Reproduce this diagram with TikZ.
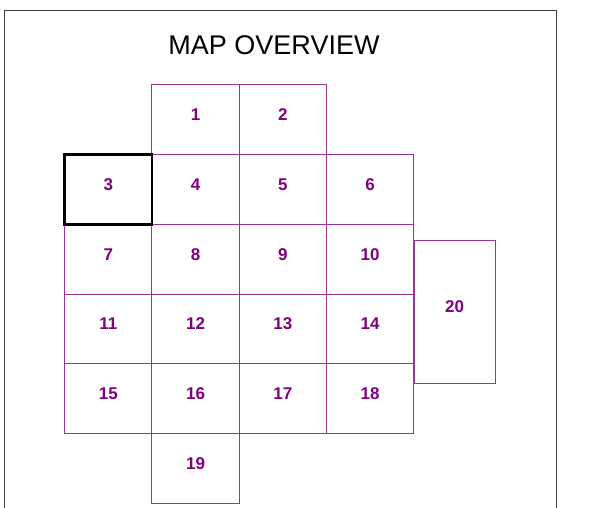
\documentclass[tikz,border=0pt]{standalone}
\usepackage{fontspec}
\setmainfont{Liberation Sans}
\usetikzlibrary{positioning}
\definecolor{mapline}{HTML}{993399}
\definecolor{maptext}{HTML}{800080}

\begin{document}
\begin{tikzpicture}[x=1pt, y=-1pt,
  cell/.style={draw=mapline, line width=1pt, minimum width=87.3pt, minimum height=69.7pt, inner sep=0pt, outer sep=0pt,
    font=\fontsize{17}{19}\selectfont\bfseries, text=maptext, text depth=10pt},
  sel/.style={draw=black, line width=2.8pt},
  frame/.style={draw=black!75, line width=1pt},
  title/.style={font=\fontsize{27}{30}\selectfont}]
\useasboundingbox (0,0) rectangle (605,508);
% frame and title
\draw[frame] (4,508) -- (4,11) -- (556,11) -- (556,508);
\node[title] (ttl) at (274,45) {MAP OVERVIEW};
% top row
\node[cell] (c4) at (195.6,189.5) {4};
\node[cell, above=0pt of c4] (c1) {1};
\node[cell, right=0pt of c1] (c2) {2};
% second row
\node[cell, left=0pt of c4] (c3) {3};
\node[cell, right=0pt of c4] (c5) {5};
\node[cell, right=0pt of c5] (c6) {6};
% third row
\node[cell, below=0pt of c3] (c7) {7};
\node[cell, below=0pt of c4] (c8) {8};
\node[cell, below=0pt of c5] (c9) {9};
\node[cell, below=0pt of c6] (c10) {10};
% fourth row
\node[cell, below=0pt of c7] (c11) {11};
\node[cell, below=0pt of c8] (c12) {12};
\node[cell, below=0pt of c9] (c13) {13};
\node[cell, below=0pt of c10] (c14) {14};
% fifth row
\node[cell, below=0pt of c11] (c15) {15};
\node[cell, below=0pt of c12] (c16) {16};
\node[cell, below=0pt of c13] (c17) {17};
\node[cell, below=0pt of c14] (c18) {18};
% bottom row
\node[cell, below=0pt of c16] (c19) {19};
% side block
\node[cell, minimum width=81pt, minimum height=143pt] (c20) at (454.5,311.5) {20};
% current tile
\draw[sel] (c3.north west) rectangle (c3.south east);
\end{tikzpicture}
\end{document}
